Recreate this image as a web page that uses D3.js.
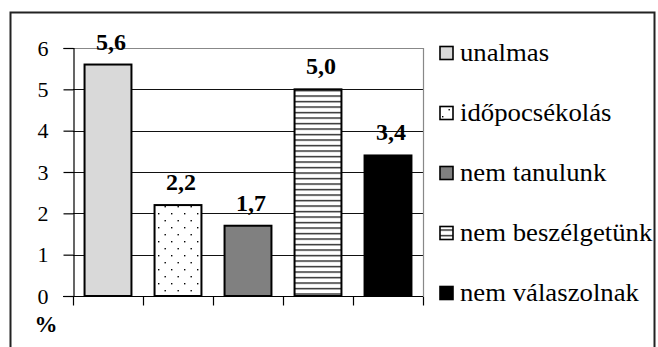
<!DOCTYPE html>
<html>
<head>
<meta charset="utf-8">
<script src="https://cdn.jsdelivr.net/npm/d3@7"></script>
<style>
  body { margin: 0; background: #fff; }
  svg text { font-family: "Liberation Serif", "Times New Roman", serif !important; }
</style>
</head>
<body>
<svg width="658" height="347" font-family="Liberation Serif"></svg>
<script>
let categories = ["unalmas", "időpocsékolás", "nem tanulunk", "nem beszélgetünk", "nem válaszolnak"];
let values = [5.6, 2.2, 1.7, 5.0, 3.4];
let valueLabels = ["5,6", "2,2", "1,7", "5,0", "3,4"];
let yTicks = [0, 1, 2, 3, 4, 5, 6];
let fills = ["#d9d9d9", "url(#dots)", "#808080", "url(#stripes)", "#000000"];

let fontFace = "Liberation Serif";
let plot = {left: 73, right: 423, top: 48, bottom: 296};

let svg = d3.select("svg");

let defs = svg.append("defs");

let dots = defs.append("pattern")
  .attr("id", "dots")
  .attr("patternUnits", "userSpaceOnUse")
  .attr("width", 13).attr("height", 14);
dots.append("rect").attr("width", 13).attr("height", 14).attr("fill", "#fff");
dots.append("rect").attr("x", 2).attr("y", 3).attr("width", 1.4).attr("height", 1.4).attr("fill", "#000");
dots.append("rect").attr("x", 8.5).attr("y", 10).attr("width", 1.4).attr("height", 1.4).attr("fill", "#000");

let stripes = defs.append("pattern")
  .attr("id", "stripes")
  .attr("patternUnits", "userSpaceOnUse")
  .attr("width", 10).attr("height", 5.5);
stripes.append("rect").attr("width", 10).attr("height", 5.5).attr("fill", "#fff");
stripes.append("rect").attr("y", 2).attr("width", 10).attr("height", 1.2).attr("fill", "#000");

// outer frame
svg.append("rect")
  .attr("x", 10.5).attr("y", 12.5)
  .attr("width", 644).attr("height", 360)
  .attr("fill", "none")
  .attr("stroke", "#222")
  .attr("stroke-width", 2);

let x = d3.scaleBand()
  .domain(categories)
  .range([plot.left, plot.right])
  .paddingInner(0.33)
  .paddingOuter(0.165);

let y = d3.scaleLinear()
  .domain([0, 6])
  .range([plot.bottom, plot.top]);

// gridlines
svg.append("g")
  .selectAll("line")
  .data(yTicks.filter(t => t > 0 && t < 6))
  .enter()
  .append("line")
  .attr("x1", plot.left).attr("x2", plot.right)
  .attr("y1", d => Math.round(y(d)) + 0.5).attr("y2", d => Math.round(y(d)) + 0.5)
  .attr("stroke", "#111")
  .attr("stroke-width", 1);

// plot area top and right
svg.append("path")
  .attr("d", `M${plot.left},${plot.top + 0.5}H${plot.right + 0.5}V${plot.bottom}`)
  .attr("fill", "none")
  .attr("stroke", "#888")
  .attr("stroke-width", 1.2);

// bars
svg.append("g")
  .selectAll("rect")
  .data(values)
  .enter()
  .append("rect")
  .attr("x", (d, i) => x(categories[i]))
  .attr("y", d => y(d))
  .attr("width", x.bandwidth())
  .attr("height", d => y(0) - y(d))
  .attr("fill", (d, i) => fills[i])
  .attr("stroke", "#000")
  .attr("stroke-width", 2);

// value labels
svg.append("g")
  .selectAll("text")
  .data(values)
  .enter()
  .append("text")
  .attr("x", (d, i) => x(categories[i]) + x.bandwidth() / 2 + 3)
  .attr("y", d => y(d) - 15)
  .attr("text-anchor", "middle")
  .attr("font-family", fontFace)
  .attr("font-size", 24)
  .attr("font-weight", "bold")
  .text((d, i) => valueLabels[i]);

// y axis
let yAxis = d3.axisLeft(y)
  .tickValues(yTicks)
  .tickSize(10)
  .tickPadding(15)
  .tickFormat(d3.format("d"));

let ya = svg.append("g")
  .attr("transform", `translate(${plot.left + 0.5},0)`)
  .call(yAxis);
ya.attr("font-family", fontFace).attr("font-size", 22);
ya.select(".domain").attr("stroke", "#000").attr("stroke-width", 1.2);
ya.selectAll(".tick line").attr("stroke", "#000").attr("stroke-width", 1.2);
ya.selectAll(".tick text").attr("fill", "#000").attr("font-family", fontFace);

// x axis with category boundary ticks
let xb = d3.scaleLinear().domain([0, categories.length]).range([plot.left, plot.right]);
let xa = svg.append("g")
  .attr("transform", `translate(0,${plot.bottom + 0.5})`)
  .call(d3.axisBottom(xb).ticks(categories.length).tickSize(9).tickFormat(""));
xa.select(".domain").attr("d", `M${plot.left - 10},0H${plot.right}`).attr("stroke", "#000").attr("stroke-width", 1.2);
xa.selectAll(".tick line").attr("stroke", "#000").attr("stroke-width", 1.2);

svg.append("text")
  .attr("x", 46).attr("y", 332)
  .attr("text-anchor", "middle")
  .attr("font-family", fontFace)
  .attr("font-size", 23)
  .attr("font-weight", "bold")
  .text("%");

// legend
let legend = svg.append("g")
  .selectAll("g")
  .data(categories)
  .enter()
  .append("g")
  .attr("transform", (d, i) => `translate(440,${53 + i * 60})`);

legend.append("rect")
  .attr("x", 0).attr("y", -6.5)
  .attr("width", 13).attr("height", 13)
  .attr("fill", (d, i) => fills[i])
  .attr("stroke", "#000")
  .attr("stroke-width", 1.6);

legend.append("text")
  .attr("transform", "translate(20,8) scale(1.07,1)")
  .attr("font-family", fontFace)
  .attr("font-size", 25)
  .text(d => d);
</script>
</body>
</html>
